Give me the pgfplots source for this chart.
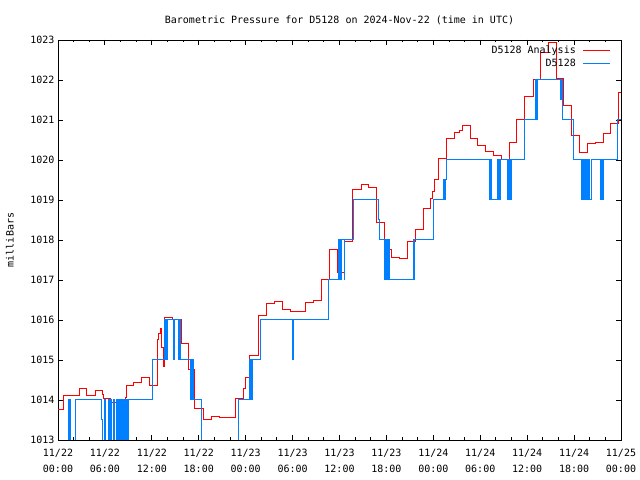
\documentclass[border=0pt]{standalone}
\usepackage{fontspec}
\setmainfont{DejaVu Sans Mono}
\usepackage{pgfplots}
\usepackage{pgfplotstable}
\pgfplotsset{compat=1.18}
\definecolor{gred}{RGB}{255,0,0}
\definecolor{gblue}{RGB}{0,128,255}
\newcommand\gf{\fontsize{10bp}{16bp}\selectfont}
\pgfplotstableread{
h p
0 1013.75
0.7 1014.10
1.75 1014.12
2.7 1014.29
3.67 1014.12
4.77 1014.24
5.63 1014.14
5.84 1014.04
6.7 1013.94
8.6 1014.05
8.78 1014.37
9.68 1014.44
10.7 1014.57
11.68 1014.37
12.75 1015.52
12.9 1015.67
13.1 1015.79
13.3 1015.30
13.45 1014.83
13.68 1016.07
14.67 1016.02
15.8 1015.42
16.67 1014.75
17.5 1013.79
18.67 1013.52
19.65 1013.58
20.7 1013.57
22.76 1014.04
23.7 1014.29
24.0 1014.57
24.55 1015.12
25.6 1016.12
26.7 1016.42
27.75 1016.47
28.7 1016.27
29.7 1016.22
31.7 1016.44
32.7 1016.49
33.7 1017.02
34.7 1017.77
35.7 1017.19
36.7 1017.96
37.7 1019.27
38.75 1019.39
39.7 1019.32
40.7 1018.43
41.7 1017.77
42.7 1017.57
43.7 1017.53
44.7 1017.96
45.7 1018.27
46.7 1018.79
47.7 1019.04
47.9 1019.2
48.1 1019.5
48.7 1020.04
49.7 1020.54
50.7 1020.68
51.4 1020.73
51.7 1020.87
52.7 1020.54
53.7 1020.37
54.7 1020.22
55.7 1020.10
56.7 1020.00
57.7 1020.44
58.65 1021.00
59.7 1021.58
60.8 1022.02
61.7 1022.68
62.7 1022.93
63.7 1022.04
64.7 1021.37
65.7 1020.60
66.75 1020.18
67.7 1020.42
68.75 1020.43
69.7 1020.67
70.7 1020.92
71.65 1021.68
72 1021.68
}\redtab
\pgfplotstableread{
h p
0 1012
1.32 1014
1.37 1012
1.45 1014
1.55 1012
2.2 1014
5.6 1013.5
5.68 1012
5.95 1014
6.05 1012
6.5 1014
6.6 1012
6.7 1014
6.8 1012
7.1 1014
7.2 1012
7.45 1014
7.55 1012
7.65 1014
7.75 1012
7.9 1014
8.0 1012
8.1 1014
8.2 1012
8.3 1014
8.4 1012
8.5 1014
8.6 1012
8.75 1014
8.85 1012
9.04 1014
12.1 1015
13.68 1016
13.75 1015
13.82 1016
13.88 1015
13.95 1016
14.75 1015
14.82 1016
14.9 1015
14.96 1016
15.4 1015
15.48 1016
15.55 1015
15.62 1016
15.7 1015
17.0 1014
17.08 1015
17.15 1014
17.22 1015
17.3 1014
18.37 1012
23.06 1014
24.55 1015
24.6 1014
24.68 1015
24.75 1014
24.85 1015
25.9 1016
30.0 1015
30.06 1016
34.57 1017
35.93 1018
36.0 1017
36.1 1018
36.2 1017
36.3 1018
36.6 1017
36.7 1018
37.76 1019
40.96 1018.5
41.1 1018
41.8 1017
41.9 1018
42.0 1017
42.1 1018
42.2 1017
42.3 1018
42.4 1017
45.4 1018
45.48 1017
45.56 1018
48.0 1019
49.3 1019.5
49.4 1019
49.5 1019.5
49.7 1020
55.2 1019
55.3 1020
55.4 1019
56.2 1020
56.3 1019
56.45 1020
56.55 1019
56.65 1020
57.45 1019
57.55 1020
57.65 1019
57.75 1020
57.85 1019
57.95 1019.5
58.05 1020
59.6 1021
59.65 1020
59.72 1021
61.1 1022
61.18 1021
61.3 1022
64.2 1021.5
64.28 1022
64.36 1021.5
64.45 1022
64.55 1021
65.9 1020
67.0 1019
67.1 1020
67.2 1019
67.35 1020
67.45 1019
67.6 1020
67.7 1019
67.85 1020
67.95 1019
68.2 1020
69.4 1019
69.5 1020
69.6 1019
69.7 1020
71.5 1021
72 1021
}\bluetab
\begin{document}
\begin{tikzpicture}
\path[use as bounding box] (0bp,0bp) rectangle (640bp,480bp);
\begin{axis}[
  at={(58bp,40bp)}, anchor=south west,
  scale only axis, width=563bp, height=400bp,
  xmin=0, xmax=72, ymin=1013, ymax=1023,
  xtick={0,6,...,72}, minor xtick={0,2,...,72},
  xticklabels={{11/22\\00:00},{11/22\\06:00},{11/22\\12:00},{11/22\\18:00},{11/23\\00:00},{11/23\\06:00},{11/23\\12:00},{11/23\\18:00},{11/24\\00:00},{11/24\\06:00},{11/24\\12:00},{11/24\\18:00},{11/25\\00:00}},
  ytick={1013,1014,...,1023},
  yticklabels={1013,1014,1015,1016,1017,1018,1019,1020,1021,1022,1023},
  xticklabel style={font=\gf, align=center, anchor=north, yshift=-6bp},
  yticklabel style={font=\gf},
  major tick length=5bp, minor tick length=2.5bp,
  tick align=inside, tick pos=both,
  axis line style={line width=0.9bp},
  every tick/.style={black, line width=0.9bp},
  every axis title/.style={at={(axis description cs:0.5,1.05)}, anchor=center, font=\gf},
  title={Barometric Pressure for D5128 on 2024-Nov-22 (time in UTC)},
  every axis y label/.style={at={(axis description cs:-0.0853,0.5)}, rotate=90, anchor=center, font=\gf},
  ylabel={milliBars},
  legend style={at={(axis description cs:1,1)}, anchor=north east, xshift=-10bp, yshift=-4bp,
    draw=none, fill=none, font=\gf, inner sep=0pt, row sep=0bp, cells={anchor=east}},
  legend cell align=right,
  legend plot pos=right,
  legend image code/.code={\path (0bp,0bp); \draw[#1] (5bp,0bp) -- (32bp,0bp);},
]
\addplot[const plot, gred, line width=1bp] table[x=h, y=p] {\redtab};
\addlegendentry{D5128 Analysis}
\addplot[const plot, gblue, line width=1bp] table[x=h, y=p] {\bluetab};
\addlegendentry{D5128}
\end{axis}
\end{tikzpicture}
\end{document}
